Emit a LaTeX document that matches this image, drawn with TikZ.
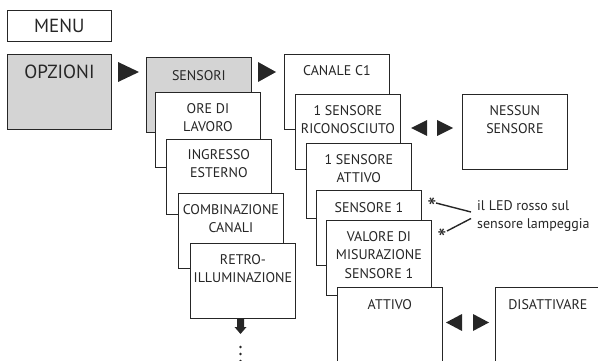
\documentclass[tikz,border=0pt]{standalone}
\usepackage{fontspec}
\setmainfont{PT Sans}
\usetikzlibrary{positioning}

\tikzset{
  box/.style={draw=black!85, line width=0.8pt, fill=white, anchor=north west,
    minimum width=105pt, minimum height=75pt, inner sep=0pt},
  greybox/.style={box, fill=black!17},
  boxtext/.style={anchor=north, align=center, inner sep=0pt, text=black!85,
    font=\fontsize{14}{18.5}\selectfont},
  bigtext/.style={boxtext, font=\fontsize{19}{22}\selectfont},
  asterisk/.style={boxtext, anchor=center, inner sep=0pt,
    font=\fontsize{26}{26}\selectfont},
  tri/.style={fill=black!85},
  leader/.style={draw=black!85, line width=1.4pt}
}

\begin{document}
\begin{tikzpicture}[x=1pt,y=-1pt]

\useasboundingbox (0,0) rectangle (598,361);

% Menu
\node[box, minimum width=104pt, minimum height=31pt]
(menu) at (7,10) {};
\node[bigtext, anchor=center]
(menu-t) at (menu.center) {MENU};

\node[greybox, minimum width=104pt]
(opzioni) at (7,54) {};
\node[bigtext, below=11pt of opzioni.north]
(opzioni-t) {OPZIONI};

\fill[tri] (118,62) -- (118,82) -- (139,72) -- cycle;

% Colonna delle opzioni
\node[greybox]
(sensori) at (146,57) {};
\node[boxtext, below=13pt of sensori.north]
(sensori-t) {SENSORI};

\node[box]
(ore) at (155,92) {};
\node[boxtext, below=11pt of ore.north]
(ore-t) {ORE DI\\LAVORO};

\node[box]
(ingresso) at (166,139) {};
\node[boxtext, below=10pt of ingresso.north]
(ingresso-t) {INGRESSO\\ESTERNO};

\node[box]
(combinazione) at (178,193) {};
\node[boxtext, below=11pt of combinazione.north]
(combinazione-t) {COMBINAZIONE\\CANALI};

\fill[tri] (237,312) -- (244,312) -- (244,327) -- (246.5,327)
  -- (240.5,334) -- (234.5,327) -- (237,327) -- cycle;
\foreach \y in {347,354,361}
  \fill[tri] (240.5,\y) circle (1.3pt);

\node[box]
(retro) at (190,243) {};
\node[boxtext, below=11pt of retro.north]
(retro-t) {RETRO-\\ILLUMINAZIONE};

\fill[tri] (258,62) -- (258,82) -- (276,72) -- cycle;

% Colonna dei sensori
\node[box]
(canale) at (284,54) {};
\node[boxtext, below=11pt of canale.north]
(canale-t) {CANALE C1};

\node[box]
(riconosciuto) at (295,94) {};
\node[boxtext, below=11pt of riconosciuto.north]
(riconosciuto-t) {1 SENSORE\\RICONOSCIUTO};

\fill[tri] (427,120) -- (427,136) -- (411,128) -- cycle;
\fill[tri] (437,120) -- (437,136) -- (453,128) -- cycle;

\node[box]
(nessun) at (462,94) {};
\node[boxtext, below=11pt of nessun.north]
(nessun-t) {NESSUN\\SENSORE};

\node[box]
(attivo-uno) at (306,143) {};
\node[boxtext, below=11pt of attivo-uno.north]
(attivo-uno-t) {1 SENSORE\\ATTIVO};

\node[box]
(sensore-uno) at (316,190) {};
\node[boxtext, below=12pt of sensore-uno.north]
(sensore-uno-t) {SENSORE 1};

\node[box]
(valore) at (326,220) {};
\node[boxtext, below=11pt of valore.north]
(valore-t) {VALORE DI\\MISURAZIONE\\SENSORE 1};

\node[box, minimum height=85pt]
(attivo) at (337,287) {};
\node[boxtext, below=12pt of attivo.north]
(attivo-t) {ATTIVO};

\fill[tri] (462,314) -- (462,331) -- (446,322.5) -- cycle;
\fill[tri] (473,314) -- (473,331) -- (489,322.5) -- cycle;

\node[box, minimum height=85pt]
(disattivare) at (495,287) {};
\node[boxtext, below=12pt of disattivare.north]
(disattivare-t) {DISATTIVARE};

% Nota
\node[boxtext, anchor=west, align=left]
(nota) at (477,216) {il LED rosso sul\\sensore lampeggia};

\node[asterisk]
(ast-uno) at (432,207) {*};
\node[asterisk]
(ast-due) at (442,238) {*};

\coordinate (nota-a) at (471,212);
\coordinate (nota-b) at (471,218.5);
\draw[leader] (436,203) -- (nota-a);
\draw[leader] (447,231) -- (nota-b);

\end{tikzpicture}
\end{document}
